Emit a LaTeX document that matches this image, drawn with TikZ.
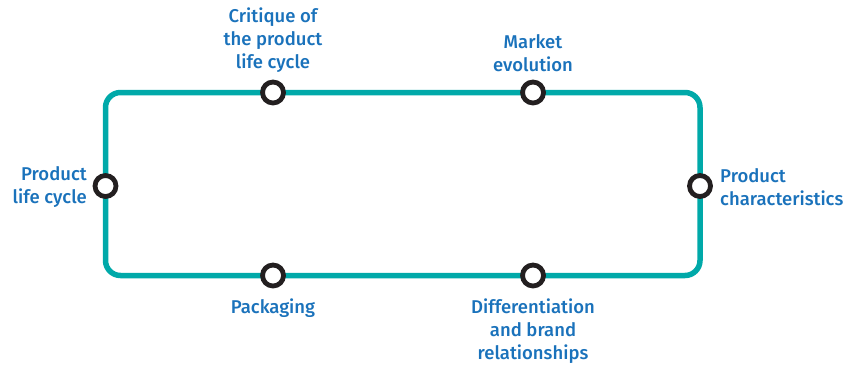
\documentclass[tikz,border=0pt]{standalone}
\usepackage{fontspec}
\setmainfont{Fira Sans Medium}
\definecolor{track}{HTML}{00A9A9}
\definecolor{lbl}{HTML}{1A72BB}
\definecolor{ring}{HTML}{231F20}
\begin{document}
\begin{tikzpicture}[x=1pt,y=-1pt,
  stop/.style={circle,draw=ring,line width=4.8pt,fill=white,minimum size=21pt,inner sep=0pt},
  lab/.style={text=lbl,font=\fontsize{18.5}{23}\selectfont,inner sep=0pt}]
\useasboundingbox (0,0) rectangle (852,365);
\draw[track,line width=5.5pt,rounded corners=15pt] (105.5,92.5) rectangle (700,275.5);
\node[stop] (a) at (273,92.5) {};
\node[stop] (b) at (533,92.5) {};
\node[stop] (c) at (105.5,186) {};
\node[stop] (d) at (700,186) {};
\node[stop] (e) at (273,275.5) {};
\node[stop] (f) at (533,275.5) {};
\node[lab,align=center,anchor=south] (ta) at (273,73) {Critique of\\the product\\life cycle};
\node[lab,align=center,anchor=south] (tb) at (533,72) {Market\\evolution};
\node[lab,align=right,anchor=east] (tc) at (87,187) {Product\\life cycle};
\node[lab,align=left,anchor=west] (td) at (720,187) {Product\\characteristics};
\node[lab,align=center,anchor=north] (te) at (273,299) {Packaging};
\node[lab,align=center,anchor=north] (tf) at (533,299) {Differentiation\\and brand\\relationships};
\end{tikzpicture}
\end{document}
